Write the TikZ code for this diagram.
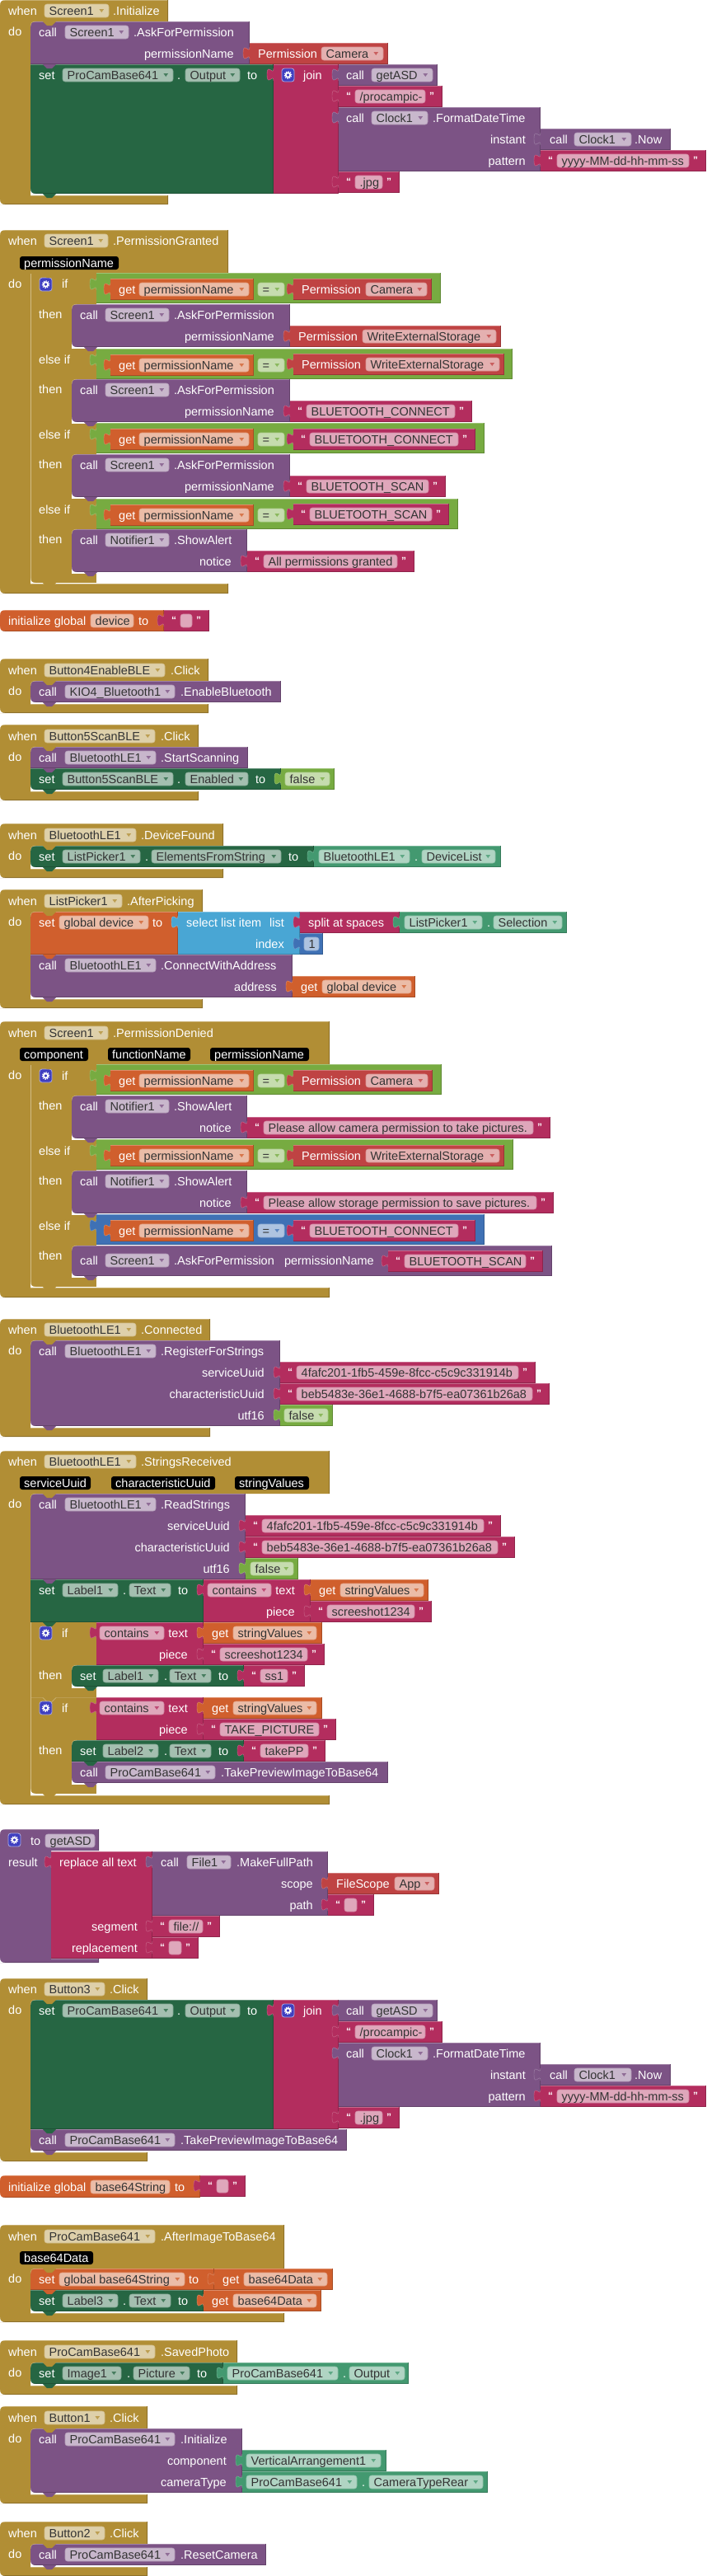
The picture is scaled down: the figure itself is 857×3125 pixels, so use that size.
\documentclass[tikz,border=0pt]{standalone}
\usepackage{fontspec}
\setmainfont{Liberation Sans}
\definecolor{evtgold}{HTML}{B18E35}
\definecolor{callpurple}{HTML}{7C5385}
\definecolor{setgreen}{HTML}{266643}
\definecolor{textred}{HTML}{B32D5E}
\definecolor{permred}{HTML}{BF4343}
\definecolor{logicgreen}{HTML}{77AB41}
\definecolor{varorange}{HTML}{D05F2D}
\definecolor{listblue}{HTML}{49A6D4}
\definecolor{mathblue}{HTML}{3F71B5}
\definecolor{compteal}{HTML}{439970}
\definecolor{gearblue}{HTML}{3F3FC0}
\tikzset{
	lbl/.style={inner sep=0pt, text=white, font=\fontsize{14.5}{16}\selectfont},
	fldtxt/.style={lbl, text=black!80},
	quot/.style={inner sep=0pt, text=white, font=\fontsize{12}{12}\selectfont\bfseries},
}
\newcount\wordno
\def\word(#1,#2)#3{\global\advance\wordno by 1
	\node[lbl, anchor=base west] (w\the\wordno) at ({#1},{#2+5}) {#3};}
\def\rword(#1,#2)#3{\global\advance\wordno by 1
	\node[lbl, anchor=base east] (w\the\wordno) at ({#1},{#2+5}) {#3};}
\def\tabn[#1](#2,#3){\filldraw[fill=#1, draw=#1!70!white, line width=0.4pt] ({#2},{#3-8}) .. controls ({#2},{#3+2}) and ({#2-8},{#3-16}) .. ({#2-8},{#3-0.5}) .. controls ({#2-8},{#3+15}) and ({#2},{#3-3}) .. ({#2},{#3+7});}
\def\blk[#1](#2,#3)(#4,#5){\fill[#1] (#2,#3) rectangle (#4,#5);
	\draw[#1!72!white] (#2,{#3+0.5}) -- (#4,{#3+0.5});
	\draw[#1!80!black] ({#4-0.5},#3) -- ({#4-0.5},{#5-0.5}) -- (#2,{#5-0.5});}
\def\val[#1](#2,#3)(#4,#5){\blk[#1](#2,#3)(#4,#5)\tabn[#1](#2,{#3+13})}
\def\nub[#1](#2,#3){\fill[#1] ({#2+15},#3) -- ({#2+20},{#3+5}) -- ({#2+26},{#3+5}) -- ({#2+31},#3) -- cycle;}
\def\nick[#1](#2,#3,#4,#5){\fill[#1] (#2,{#3+#5}) .. controls (#2,{#3+#5/3}) and ({#2+#4/3},#3) .. ({#2+#4},#3) -- (#2,#3) -- cycle;}
\def\mouth[#1](#2,#3)(#4){\nick[#1](#2,#3,6,6)\nick[white](#2,#4,6,-6)
	\draw[#1!65!white] (#2,{#3+6}) .. controls (#2,{#3+2}) and ({#2+2},#3) .. ({#2+6},#3);}
% field without the little triangle
\def\fldn[#1](#2,#3,#4)#5{\filldraw[fill=#1!42!white, draw=#1!58!white, line width=0.6pt, rounded corners=3pt] (#2,{#4-8}) rectangle (#3,{#4+8});
	\global\advance\wordno by 1
	\node[fldtxt, anchor=base west] (w\the\wordno) at ({#2+5.5},{#4+5}) {#5};}
\def\fld[#1](#2,#3,#4)#5{\fldn[#1](#2,#3,#4){#5}
	\fill[#1!85!white] ({#3-11.5},{#4-1.8}) -- ({#3-6},{#4-1.8}) -- ({#3-8.75},{#4+2}) -- cycle;}
\def\strv(#1,#2,#3)#4{\val[textred](#1,#3)({#2+21},{#3+26})
	\fldn[textred]({#1+20},#2,{#3+13}){#4}
	\global\advance\wordno by 1
	\node[quot, anchor=base] (w\the\wordno) at ({#1+12},{#3+16}) {“};
	\global\advance\wordno by 1
	\node[quot, anchor=base] (w\the\wordno) at ({#2+8},{#3+16}) {”};}
\def\argtag(#1,#2,#3)#4{\fill[black, rounded corners=3pt] (#1,{#3-8}) rectangle (#2,{#3+8});
	\global\advance\wordno by 1
	\node[lbl, anchor=base west] (w\the\wordno) at ({#1+5},{#3+5}) {#4};}
\def\gear(#1,#2){\filldraw[fill=gearblue, draw=gearblue!45!white, line width=0.8pt, rounded corners=3pt] (#1,#2) rectangle ({#1+15},{#2+16});
	\draw[white, line width=1.8pt] ({#1+7.5},{#2+8}) circle[radius=2.7pt];
	\draw[white, line width=1.4pt, dash pattern=on 1.2pt off 1.4pt] ({#1+7.5},{#2+8}) circle[radius=4.2pt];}
\def\event[#1](#2,#3,#4,#5,#6,#7){\fill[#1] (0,#3) -- (#2,#3) -- (#2,#4) -- (#5,#4) -- (#5,#6) -- (#2,#6) -- (#2,#7) -- (0,#7) -- cycle;
	\draw[#1!72!white] (0,{#3+0.5}) -- (#2,{#3+0.5});
	\draw[#1!72!white] (#5,{#6+0.5}) -- (#2,{#6+0.5});
	\draw[#1!80!black] ({#2-0.5},#3) -- ({#2-0.5},#4);
	\draw[#1!80!black] (0,{#7-0.5}) -- ({#2-0.5},{#7-0.5}) -- ({#2-0.5},#6);
	\nick[white](0,#3,6,6)\nick[white](0,#7,6,-6)}
% one statement in a then slot, two rows high
\def\thencall(#1,#2)(#3)#4#5#6{\blk[callpurple](87,#1)(#2,{#1+52})
	\word(97,{#1+13}){call}\fld[callpurple](128,205,{#1+13}){#4}\word(211,{#1+13}){#5}
	\rword(#3,{#1+39}){#6}
	\mouth[evtgold](87,#1)({#1+52})
	\fill[white] (87,{#1+52}) rectangle (117,{#1+54});
	\nub[callpurple](87,{#1+52})}
% logic test with a get block at its left
\def\cond[#1](#2,#3){\blk[#1](117,#3)(#2,{#3+37})\tabn[#1](117,{#3+14})
	\val[varorange](134,{#3+7})(308,{#3+33})
	\word(144,{#3+20}){get}\fld[varorange](169,302,{#3+20}){permissionName}
	\fld[#1](313,345,{#3+20}){=}}
\def\permv(#1,#2)(#3,#4)#5{\val[permred](#1,#3)(#2,{#3+26})\word({#1+10},{#3+13}){Permission}\fld[permred](#4,{#2-6},{#3+13}){#5}}
\def\ifcol(#1,#2){\fill[evtgold] (37,#1) rectangle (117,#2);
	\draw[evtgold!60!white, line width=0.7pt] (37.5,#1) -- (37.5,#2);
	\nick[white](37,#2,6,-6)}
\def\outputset#1{\begin{scope}[yshift=-#1pt]
	\blk[setgreen](37,78)(332,235)
	\word(47,91){set}\fld[setgreen](76,210,91){ProCamBase641}\word(215,91){.}\fld[setgreen](225,291,91){Output}\word(300,91){to}
	\val[textred](332,78)(411,235)
	\gear(342,83)\word(368,91){join}
	\val[callpurple](411,78)(531,104)
	\word(420,91){call}\fld[callpurple](451,525,91){getASD}
	\strv(411,516,104){/procampic-}
	\val[callpurple](411,130)(656,208)
	\word(420,143){call}\fld[callpurple](451,519,143){Clock1}\word(525,143){.FormatDateTime}
	\rword(638,169){instant}\rword(638,195){pattern}
	\val[callpurple](656,156)(814,182)
	\word(667,169){call}\fld[callpurple](697,766,169){Clock1}\word(770,169){.Now}
	\strv(656,836,182){yyyy-MM-dd-hh-mm-ss}
	\strv(411,464,208){.jpg}
	\end{scope}}
\begin{document}
\begin{tikzpicture}[x=1pt,y=-1pt]
	\useasboundingbox (0,0) rectangle (857,3125);
	\fill[white] (0,0) rectangle (857,3125);
	%%%%% Screen1.Initialize %%%%%
	\event[evtgold](204,0,26,37,237,248)
	\word(10,13){when}\fld[evtgold](54,132,13){Screen1}\word(137,13){.Initialize}\word(10,38){do}
	\blk[callpurple](37,26)(303,78)
	\word(47,39){call}\fld[callpurple](79,156,39){Screen1}\word(162,39){.AskForPermission}
	\rword(284,65){permissionName}
	\val[permred](303,52)(471,78)\word(313,65){Permission}\fld[permred](390,465,65){Camera}
	\outputset{0}
	\mouth[evtgold](37,26)(235)
	\nub[evtgold](37,26)\nub[callpurple](37,78)\nub[setgreen](37,235)
	%%%%% Screen1.PermissionGranted %%%%%
	\event[evtgold](277,279,332,37,708,720)
	\word(10,292){when}\fld[evtgold](54,131,292){Screen1}\word(137,292){.PermissionGranted}
	\argtag(24,144,319){permissionName}\word(10,344){do}
	\ifcol(332,707)
	\gear(48,337)\word(75,344){if}
	\word(47,381){then}\word(47,436){else if}\word(47,472){then}\word(47,527){else if}\word(47,563){then}\word(47,618){else if}\word(47,654){then}
	\cond[logicgreen](535,331)\permv(356,524)(338,444){Camera}
	\cond[logicgreen](622,423)\permv(356,612)(429,444){WriteExternalStorage}
	\cond[logicgreen](588,513)\strv(356,556,520){BLUETOOTH\_CONNECT}
	\cond[logicgreen](556,605)\strv(356,524,611){BLUETOOTH\_SCAN}
	\thencall(369,352)(333){Screen1}{.AskForPermission}{permissionName}
	\permv(352,608)(395,440){WriteExternalStorage}
	\thencall(460,352)(333){Screen1}{.AskForPermission}{permissionName}
	\strv(352,552,486){BLUETOOTH\_CONNECT}
	\thencall(551,352)(333){Screen1}{.AskForPermission}{permissionName}
	\strv(352,520,577){BLUETOOTH\_SCAN}
	\thencall(642,300)(281){Notifier1}{.ShowAlert}{notice}
	\strv(300,482,668){All permissions granted}
	\nub[evtgold](37,332)\nub[evtgold](37,707)
	%%%%% global device %%%%%
	\blk[varorange](0,740)(199,766)\nick[white](0,740,6,6)\nick[white](0,766,6,-6)
	\word(10,753){initialize global}\fldn[varorange](110,162,753){device}\word(168,753){to}
	\strv(199,233,740){}
	%%%%% Button4EnableBLE.Click %%%%%
	\event[evtgold](253,799,826,37,854,865)
	\word(10,813){when}\fld[evtgold](54,200,813){Button4EnableBLE}\word(207,813){.Click}\word(10,838){do}
	\blk[callpurple](37,826)(341,852)
	\word(47,839){call}\fld[callpurple](79,212,839){KIO4\_Bluetooth1}\word(219,839){.EnableBluetooth}
	\mouth[evtgold](37,826)(852)\nub[evtgold](37,826)\nub[callpurple](37,852)
	%%%%% Button5ScanBLE.Click %%%%%
	\event[evtgold](241,879,906,37,960,971)
	\word(10,893){when}\fld[evtgold](54,188,893){Button5ScanBLE}\word(195,893){.Click}\word(10,918){do}
	\blk[callpurple](37,906)(301,932)
	\word(47,919){call}\fld[callpurple](79,189,919){BluetoothLE1}\word(195,919){.StartScanning}
	\blk[setgreen](37,932)(341,958)
	\word(47,945){set}\fld[setgreen](76,210,945){Button5ScanBLE}\word(215,945){.}\fld[setgreen](225,301,945){Enabled}\word(310,945){to}
	\val[logicgreen](341,932)(406,958)\fld[logicgreen](346,400,945){false}
	\mouth[evtgold](37,906)(958)\nub[evtgold](37,906)\nub[callpurple](37,932)\nub[setgreen](37,958)
	%%%%% BluetoothLE1.DeviceFound %%%%%
	\event[evtgold](271,999,1026,37,1054,1065)
	\word(10,1013){when}\fld[evtgold](54,165,1013){BluetoothLE1}\word(171,1013){.DeviceFound}\word(10,1038){do}
	\blk[setgreen](37,1026)(381,1052)
	\word(47,1039){set}\fld[setgreen](76,170,1039){ListPicker1}\word(176,1039){.}\fld[setgreen](184,341,1039){ElementsFromString}\word(350,1039){to}
	\val[compteal](381,1026)(608,1052)
	\fld[compteal](387,497,1039){BluetoothLE1}\word(503,1039){.}\fld[compteal](512,601,1039){DeviceList}
	\mouth[evtgold](37,1026)(1052)\nub[evtgold](37,1026)\nub[setgreen](37,1052)
	%%%%% ListPicker1.AfterPicking %%%%%
	\event[evtgold](246,1079,1106,37,1212,1223)
	\word(10,1093){when}\fld[evtgold](54,148,1093){ListPicker1}\word(154,1093){.AfterPicking}\word(10,1118){do}
	\blk[varorange](37,1106)(216,1158)
	\word(47,1119){set}\fld[varorange](72,180,1119){global device}\word(185,1119){to}
	\val[listblue](216,1106)(364,1158)
	\word(226,1119){select list item}\rword(345,1119){list}\rword(345,1145){index}
	\val[textred](364,1106)(485,1132)\word(374,1119){split at spaces}
	\val[compteal](485,1106)(688,1132)
	\fld[compteal](491,585,1119){ListPicker1}\word(591,1119){.}\fld[compteal](599,682,1119){Selection}
	\val[mathblue](364,1132)(392,1158)
	\fldn[mathblue](369,387,1145){1}
	\blk[callpurple](37,1158)(355,1210)
	\word(47,1171){call}\fld[callpurple](79,189,1171){BluetoothLE1}\word(195,1171){.ConnectWithAddress}
	\rword(336,1197){address}
	\val[varorange](355,1184)(504,1210)\word(365,1197){get}\fld[varorange](391,499,1197){global device}
	\mouth[evtgold](37,1106)(1210)\nub[evtgold](37,1106)\nub[varorange](37,1158)\nub[callpurple](37,1210)
	%%%%% Screen1.PermissionDenied %%%%%
	\event[evtgold](400,1239,1292,37,1562,1574)
	\word(10,1253){when}\fld[evtgold](54,131,1253){Screen1}\word(137,1253){.PermissionDenied}
	\argtag(24,107,1279){component}\argtag(131,231,1279){functionName}\argtag(255,375,1279){permissionName}
	\word(10,1304){do}
	\ifcol(1292,1561)
	\gear(48,1297)\word(75,1305){if}
	\word(47,1341){then}\word(47,1396){else if}\word(47,1432){then}\word(47,1487){else if}\word(47,1523){then}
	\cond[logicgreen](536,1291)\permv(356,525)(1298,444){Camera}
	\cond[logicgreen](623,1382)\permv(356,612)(1389,444){WriteExternalStorage}
	\cond[mathblue](588,1473)\strv(356,556,1480){BLUETOOTH\_CONNECT}
	\thencall(1329,300)(281){Notifier1}{.ShowAlert}{notice}
	\strv(300,647,1355){Please allow camera permission to take pictures.}
	\thencall(1420,300)(281){Notifier1}{.ShowAlert}{notice}
	\strv(300,651,1446){Please allow storage permission to save pictures.}
	\blk[callpurple](87,1511)(670,1548)
	\word(97,1529){call}\fld[callpurple](128,205,1529){Screen1}\word(211,1529){.AskForPermission}\rword(454,1529){permissionName}
	\strv(471,638,1517){BLUETOOTH\_SCAN}
	\mouth[evtgold](87,1511)(1548)
	\fill[white] (87,1548) rectangle (117,1550);
	\nub[callpurple](87,1548)
	\nub[evtgold](37,1292)\nub[evtgold](37,1561)
	%%%%% BluetoothLE1.Connected %%%%%
	\event[evtgold](255,1600,1626,37,1732,1743)
	\word(10,1613){when}\fld[evtgold](54,165,1613){BluetoothLE1}\word(171,1613){.Connected}\word(10,1638){do}
	\blk[callpurple](37,1626)(340,1730)
	\word(47,1639){call}\fld[callpurple](79,189,1639){BluetoothLE1}\word(195,1639){.RegisterForStrings}
	\rword(321,1665){serviceUuid}\rword(321,1691){characteristicUuid}\rword(321,1717){utf16}
	\strv(340,629,1652){4fafc201-1fb5-459e-8fcc-c5c9c331914b}
	\strv(340,646,1678){beb5483e-36e1-4688-b7f5-ea07361b26a8}
	\val[logicgreen](340,1704)(404,1730)\fld[logicgreen](345,398,1717){false}
	\mouth[evtgold](37,1626)(1730)\nub[evtgold](37,1626)\nub[callpurple](37,1730)
	%%%%% BluetoothLE1.StringsReceived %%%%%
	\event[evtgold](400,1760,1812,37,2178,2189)
	\word(10,1773){when}\fld[evtgold](54,165,1773){BluetoothLE1}\word(171,1773){.StringsReceived}
	\argtag(24,110,1799){serviceUuid}\argtag(135,261,1799){characteristicUuid}\argtag(285,375,1799){stringValues}
	\word(10,1824){do}
	\blk[callpurple](37,1812)(298,1916)
	\word(47,1825){call}\fld[callpurple](79,189,1825){BluetoothLE1}\word(195,1825){.ReadStrings}
	\rword(279,1851){serviceUuid}\rword(279,1877){characteristicUuid}\rword(279,1903){utf16}
	\strv(298,587,1838){4fafc201-1fb5-459e-8fcc-c5c9c331914b}
	\strv(298,604,1864){beb5483e-36e1-4688-b7f5-ea07361b26a8}
	\val[logicgreen](298,1890)(362,1916)\fld[logicgreen](304,356,1903){false}
	\blk[setgreen](37,1916)(247,1968)
	\word(47,1929){set}\fld[setgreen](76,143,1929){Label1}\word(149,1929){.}\fld[setgreen](157,207,1929){Text}\word(216,1929){to}
	\val[textred](247,1916)(377,1968)
	\fld[textred](252,329,1929){contains}\rword(358,1929){text}\rword(358,1955){piece}
	\val[varorange](377,1916)(520,1942)\word(387,1929){get}\fld[varorange](413,514,1929){stringValues}
	\strv(377,503,1942){screeshot1234}
	\ifcol(1968,2176)
	\draw[evtgold!60!white] (37,2059.5) -- (52,2059.5) -- (57,2064.5) -- (63,2064.5) -- (68,2059.5) -- (117,2059.5);
	% first if
	\gear(48,1973)\word(75,1981){if}\word(47,2032){then}
	\val[textred](117,1968)(247,2020)
	\fld[textred](121,199,1981){contains}\rword(228,1981){text}\rword(228,2007){piece}
	\val[varorange](247,1968)(391,1994)\word(257,1981){get}\fld[varorange](283,384,1981){stringValues}
	\strv(247,373,1994){screeshot1234}
	\blk[setgreen](87,2020)(296,2046)
	\word(97,2033){set}\fld[setgreen](125,192,2033){Label1}\word(199,2033){.}\fld[setgreen](206,256,2033){Text}\word(265,2033){to}
	\strv(296,349,2020){ss1}
	\mouth[evtgold](87,2020)(2046)
	\fill[white] (87,2046) rectangle (117,2048);
	\nub[setgreen](87,2046)
	% second if
	\gear(48,2064)\word(75,2072){if}\word(47,2123){then}
	\val[textred](117,2059)(247,2111)
	\fld[textred](121,199,2072){contains}\rword(228,2072){text}\rword(228,2098){piece}
	\val[varorange](247,2059)(391,2085)\word(257,2072){get}\fld[varorange](283,384,2072){stringValues}
	\strv(247,387,2085){TAKE\_PICTURE}
	\blk[setgreen](87,2111)(296,2137)
	\word(97,2124){set}\fld[setgreen](125,192,2124){Label2}\word(199,2124){.}\fld[setgreen](206,256,2124){Text}\word(265,2124){to}
	\strv(296,374,2111){takePP}
	\blk[callpurple](87,2137)(471,2163)
	\word(97,2150){call}\fld[callpurple](128,261,2150){ProCamBase641}\word(268,2150){.TakePreviewImageToBase64}
	\mouth[evtgold](87,2111)(2163)
	\fill[white] (87,2163) rectangle (117,2165);
	\nub[setgreen](87,2137)\nub[callpurple](87,2163)
	\mouth[evtgold](37,1812)(2176)
	\nub[evtgold](37,1812)\nub[callpurple](37,1916)\nub[setgreen](37,1968)\nub[evtgold](37,2176)
	%%%%% to getASD %%%%%
	\event[callpurple](120,2219,2245,62,2376,2381)
	\gear(10,2224)\word(37,2233){to}
	\fldn[callpurple](55,115,2233){getASD}
	\word(10,2259){result}
	\val[textred](62,2246)(185,2376)
	\word(72,2259){replace all text}\rword(167,2337){segment}\rword(167,2363){replacement}
	\val[callpurple](185,2246)(398,2324)
	\word(195,2259){call}\fld[callpurple](227,280,2259){File1}\word(287,2259){.MakeFullPath}
	\rword(380,2285){scope}\rword(380,2311){path}
	\val[permred](398,2272)(533,2298)\word(408,2285){FileScope}\fld[permred](479,527,2285){App}
	\strv(398,433,2298){}
	\strv(185,246,2324){file://}
	\strv(185,220,2350){}
	%%%%% Button3.Click %%%%%
	\event[evtgold](179,2400,2426,37,2611,2622)
	\word(10,2413){when}\fld[evtgold](54,127,2413){Button3}\word(133,2413){.Click}\word(10,2438){do}
	\outputset{2348}
	\blk[callpurple](37,2583)(421,2609)
	\word(47,2596){call}\fld[callpurple](79,212,2596){ProCamBase641}\word(219,2596){.TakePreviewImageToBase64}
	\mouth[evtgold](37,2426)(2609)
	\nub[evtgold](37,2426)\nub[setgreen](37,2583)\nub[callpurple](37,2609)
	%%%%% global base64String %%%%%
	\blk[varorange](0,2639)(243,2666)\nick[white](0,2639,6,6)\nick[white](0,2666,6,-6)
	\word(10,2653){initialize global}\fldn[varorange](110,206,2653){base64String}\word(212,2653){to}
	\strv(243,277,2639){}
	%%%%% ProCamBase641.AfterImageToBase64 %%%%%
	\event[evtgold](345,2699,2752,37,2806,2817)
	\word(10,2713){when}\fld[evtgold](54,188,2713){ProCamBase641}\word(195,2713){.AfterImageToBase64}
	\argtag(24,113,2739){base64Data}\word(10,2764){do}
	\blk[varorange](37,2752)(260,2778)
	\word(47,2765){set}\fld[varorange](72,224,2765){global base64String}\word(229,2765){to}
	\val[varorange](260,2752)(404,2778)\word(270,2765){get}\fld[varorange](296,397,2765){base64Data}
	\blk[setgreen](37,2778)(247,2804)
	\word(47,2791){set}\fld[setgreen](76,143,2791){Label3}\word(149,2791){.}\fld[setgreen](157,207,2791){Text}\word(216,2791){to}
	\val[varorange](247,2778)(390,2804)\word(257,2791){get}\fld[varorange](283,384,2791){base64Data}
	\mouth[evtgold](37,2752)(2804)\nub[evtgold](37,2752)\nub[varorange](37,2778)\nub[setgreen](37,2804)
	%%%%% ProCamBase641.SavedPhoto %%%%%
	\event[evtgold](288,2839,2866,37,2894,2905)
	\word(10,2853){when}\fld[evtgold](54,188,2853){ProCamBase641}\word(195,2853){.SavedPhoto}\word(10,2878){do}
	\blk[setgreen](37,2866)(271,2892)
	\word(47,2879){set}\fld[setgreen](76,147,2879){Image1}\word(154,2879){.}\fld[setgreen](162,230,2879){Picture}\word(239,2879){to}
	\val[compteal](271,2866)(496,2892)
	\fld[compteal](276,410,2879){ProCamBase641}\word(416,2879){.}\fld[compteal](424,491,2879){Output}
	\mouth[evtgold](37,2866)(2892)\nub[evtgold](37,2866)\nub[setgreen](37,2892)
	%%%%% Button1.Click %%%%%
	\event[evtgold](179,2919,2946,37,3026,3037)
	\word(10,2933){when}\fld[evtgold](54,127,2933){Button1}\word(133,2933){.Click}\word(10,2958){do}
	\blk[callpurple](37,2946)(294,3024)
	\word(47,2959){call}\fld[callpurple](79,212,2959){ProCamBase641}\word(219,2959){.Initialize}
	\rword(275,2985){component}\rword(275,3011){cameraType}
	\val[compteal](294,2972)(469,2998)\fld[compteal](299,462,2985){VerticalArrangement1}
	\val[compteal](294,2998)(592,3024)
	\fld[compteal](299,433,3011){ProCamBase641}\word(439,3011){.}\fld[compteal](448,586,3011){CameraTypeRear}
	\mouth[evtgold](37,2946)(3024)\nub[evtgold](37,2946)\nub[callpurple](37,3024)
	%%%%% Button2.Click %%%%%
	\event[evtgold](179,3059,3086,37,3114,3125)
	\word(10,3073){when}\fld[evtgold](54,127,3073){Button2}\word(133,3073){.Click}\word(10,3098){do}
	\blk[callpurple](37,3086)(323,3112)
	\word(47,3099){call}\fld[callpurple](79,212,3099){ProCamBase641}\word(219,3099){.ResetCamera}
	\mouth[evtgold](37,3086)(3112)\nub[evtgold](37,3086)\nub[callpurple](37,3112)
\end{tikzpicture}
\end{document}
